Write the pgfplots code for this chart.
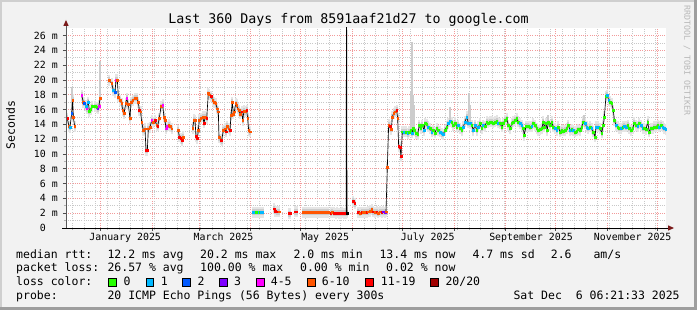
\documentclass[border=0pt]{standalone}
\usepackage{pgfplots}
\pgfplotsset{compat=1.18}
\usepackage{pgfplotstable}
\usepackage{fontspec}
\setmainfont{DejaVu Sans Mono}
\definecolor{lc0}{HTML}{26FF00}
\definecolor{lc1}{HTML}{00B8FF}
\definecolor{lc2}{HTML}{0059FF}
\definecolor{lc3}{HTML}{7E00FF}
\definecolor{lc4}{HTML}{FF00FF}
\definecolor{lc5}{HTML}{FF5500}
\definecolor{lc6}{HTML}{FF0000}
\definecolor{lc7}{HTML}{A10000}
\definecolor{bgc}{HTML}{F2F2F2}
\definecolor{shadea}{HTML}{CFCFCF}
\definecolor{shadeb}{HTML}{9E9E9E}
\definecolor{mgrid}{HTML}{F29A9A}
\definecolor{ngrid}{HTML}{C8C8C8}
\definecolor{arrowc}{HTML}{7A1A1A}
\definecolor{wm}{HTML}{B8B8B8}

% median rtt (ms) per day since Dec 11 2024, loss class
\pgfplotstableread{
d v c
0.8 14.8 r
1.8 13.7 o
2.4 13.6 c
3.4 15.5 b
4.0 17.3 o
4.4 15.0 o
5.2 13.7 o
nan nan n
9.4 17.9 m
10.4 17.0 o
11.0 16.9 b
12.0 16.5 c
12.4 16.1 m
13.4 17.0 c
14.0 15.8 g
14.8 16.0 g
15.8 16.4 g
17.4 16.4 g
18.4 16.3 g
19.0 16.1 p
19.8 16.5 m
20.4 17.5 o
nan nan n
26.0 19.95 o
27.4 19.5 o
28.4 18.6 c
29.4 18.3 b
30.0 20.0 m
30.8 20.0 o
31.4 17.7 o
32.4 17.25 o
33.4 16.8 o
34.0 15.9 o
34.8 15.45 o
35.8 16.8 o
36.4 17.5 m
37.4 16.7 o
38.4 14.8 o
39.0 17.0 o
40.0 17.25 o
41.4 17.5 o
42.4 17.5 o
43.4 17.0 o
44.0 15.9 r
44.8 15.7 o
45.4 14.3 o
46.4 13.2 o
47.4 13.4 o
48.0 10.5 r
48.8 10.5 r
49.4 13.4 o
50.4 13.6 o
51.4 14.5 m
52.4 14.3 o
53.4 14.5 r
54.4 13.9 o
55.0 13.8 r
56.0 14.8 o
57.0 16.4 o
58.0 16.6 m
58.8 15.0 o
59.4 14.6 o
60.0 13.4 m
60.8 13.7 m
61.6 13.9 o
62.4 13.7 o
63.4 13.4 o
nan nan n
67.4 13.2 o
68.0 12.3 r
68.8 12.1 r
69.8 11.8 r
70.4 12.3 o
nan nan n
76.0 13.5 o
76.8 14.6 o
77.4 14.5 o
78.0 12.4 r
78.8 12.1 r
79.4 13.2 o
80.0 14.6 o
80.8 14.8 o
82.0 15.0 o
82.8 14.2 r
83.6 15.0 o
84.4 14.8 r
85.4 18.15 o
86.0 18.0 o
87.0 17.8 r
88.0 17.25 o
89.0 17.0 o
89.8 16.8 o
90.8 16.1 o
91.4 15.7 o
91.8 12.2 o
92.8 11.9 r
93.4 11.8 r
94.4 13.2 o
95.4 13.4 o
96.0 13.0 r
96.8 13.75 o
97.6 13.4 o
98.4 13.2 r
99.0 15.2 o
99.8 17.0 o
100.4 15.4 o
101.0 15.7 o
101.8 16.8 o
102.4 16.6 o
103.0 16.1 o
103.8 15.9 o
104.4 15.4 o
105.4 15.7 r
106.0 14.55 o
106.8 15.8 o
107.6 15.7 o
108.4 15.9 r
109.0 14.8 o
109.6 13.2 o
110.4 13.0 o
nan nan n
112.4 2.1 c
113.2 2.1 c
114.0 2.1 g
114.8 2.1 g
115.6 2.1 c
116.4 2.1 g
117.2 2.1 c
118.0 2.1 c
nan nan n
124.8 2.6 r
125.6 2.3 r
126.4 2.2 r
127.2 2.2 r
128.0 2.2 o
nan nan n
133.6 1.95 r
134.4 1.95 r
nan nan n
137.6 2.2 r
138.4 2.2 r
nan nan n
142.4 2.15 o
143.4 2.15 o
144.4 2.15 o
145.4 2.15 o
146.4 2.15 o
147.4 2.15 o
148.4 2.15 o
149.4 2.15 o
150.4 2.15 o
151.4 2.15 o
152.4 2.15 o
153.4 2.15 o
154.4 2.15 o
155.4 2.15 o
156.4 2.15 o
157.4 2.15 o
nan nan n
158.8 2.05 r
159.8 2.1 o
160.8 2.05 r
161.8 2.0 r
162.8 2.05 r
163.8 2.0 r
164.8 2.0 r
165.8 2.05 r
166.8 2.0 r
167.8 2.0 r
168.1 2.0 r
168.3 40 n
168.6 2.05 n
nan nan n
172.4 3.6 r
173.2 3.3 r
nan nan n
175.4 2.1 r
176.4 2.05 o
177.4 2.1 r
178.4 2.1 o
179.4 2.15 o
180.4 2.1 r
181.4 2.2 o
182.4 2.3 o
183.4 2.5 o
184.4 2.2 r
185.4 2.1 o
186.4 2.2 r
187.4 2.05 o
188.4 2.2 o
189.4 2.1 r
190.4 2.2 p
191.4 2.15 p
192.0 2.2 o
192.8 8.2 o
193.6 13.9 o
194.4 13.7 r
195.2 13.3 o
195.8 15.0 o
196.6 15.5 o
197.6 15.7 o
198.4 15.9 r
199.0 14.8 o
199.6 11.0 r
200.4 10.9 r
201.0 9.7 r
201.8 13.0 g
202.8 12.98 c
204.0 12.98 g
205.0 12.75 c
206.0 12.98 g
206.8 13.2 g
207.6 12.85 c
208.4 13.43 g
209.0 13.2 g
210.0 12.75 g
211.0 12.67 g
212.0 13.88 g
212.8 13.43 g
213.8 13.88 g
214.8 13.2 c
215.4 14.1 g
216.4 14.02 g
217.4 13.66 c
218.4 13.43 g
219.4 12.98 c
220.4 13.2 g
221.4 12.85 g
222.4 13.43 g
223.4 13.2 g
224.4 12.98 c
225.4 12.75 c
226.4 12.67 c
227.4 13.2 g
228.4 13.66 g
229.4 14.1 c
230.4 14.42 c
231.4 14.24 g
232.4 13.88 g
233.4 14.2 g
234.4 13.66 g
235.4 13.88 c
236.4 13.43 g
237.4 13.2 g
238.4 13.66 c
239.4 14.33 c
240.4 15.0 c
241.4 14.2 c
242.4 14.1 c
243.4 13.88 g
244.4 13.2 c
245.4 13.88 c
246.4 13.2 g
247.4 13.66 c
248.4 14.1 g
249.4 13.43 g
250.4 13.88 c
251.4 13.75 g
252.4 14.33 g
253.4 14.2 g
254.4 14.33 g
255.4 14.33 g
256.4 14.2 g
257.4 14.33 g
258.4 14.46 g
259.4 14.2 c
260.4 14.1 g
261.4 13.66 g
262.4 14.1 g
263.4 14.55 g
264.4 14.78 g
265.4 13.88 g
266.4 13.43 g
267.4 14.1 g
268.4 14.33 g
269.4 14.55 g
270.4 14.78 g
271.4 14.33 g
272.4 14.1 c
273.4 13.88 c
274.4 13.43 g
275.0 12.54 g
276.0 13.75 g
277.4 13.75 g
278.4 13.66 g
279.4 13.75 c
280.4 14.1 g
281.4 13.88 g
282.4 13.43 g
283.4 13.2 g
284.4 13.3 g
285.4 13.43 g
286.4 14.33 g
287.0 13.66 g
288.0 14.1 g
288.8 13.2 g
289.4 14.33 g
290.4 13.88 g
291.4 14.33 g
292.4 13.66 g
293.4 13.43 c
294.4 13.2 c
295.4 13.66 g
296.4 12.98 g
297.4 13.2 g
298.4 13.12 g
299.4 13.2 g
300.4 13.43 g
301.4 13.88 g
302.4 13.2 c
303.4 13.3 g
304.4 13.2 c
305.4 12.98 g
306.4 13.12 g
307.4 13.3 g
308.4 13.2 g
309.4 13.66 g
310.4 14.33 g
311.4 14.1 c
312.4 13.66 c
313.4 13.43 c
314.4 13.66 g
315.4 13.43 c
316.4 12.98 g
317.4 12.31 g
318.0 13.66 c
319.4 13.66 c
320.4 13.43 g
321.4 12.85 g
322.4 13.88 g
323.0 15.0 g
324.0 17.79 g
324.8 17.93 c
325.6 17.25 c
326.4 17.03 g
327.4 16.8 g
328.4 15.9 g
329.0 14.55 g
330.0 13.88 c
331.0 13.66 g
332.0 13.43 g
333.0 13.43 c
334.0 13.66 g
335.0 13.75 c
336.0 13.66 c
337.0 13.88 g
338.0 13.43 g
339.0 13.2 g
340.0 13.43 g
341.0 14.2 g
342.0 13.88 g
343.0 13.75 c
344.0 14.1 g
345.0 13.88 c
346.0 13.43 c
347.0 13.43 g
348.0 13.3 g
349.0 14.33 g
350.0 12.98 g
351.0 13.43 g
352.0 13.43 g
353.0 13.66 g
354.0 13.66 g
355.0 13.88 g
356.0 13.66 c
357.0 13.88 g
358.0 13.66 c
359.0 13.43 c
359.8 13.3 c
}\med

% tall smoke (max rtt) spikes: from median to max
\pgfplotstableread{
d v
20.3 17.5
20.3 22.6
nan nan
3.6 16.0
3.6 19.0
nan nan
207.0 13.0
207.0 18.3
nan nan
207.6 13.0
207.6 25.1
nan nan
208.3 13.4
208.3 18.0
nan nan
209.0 13.2
209.0 16.6
nan nan
230.4 14.4
230.4 16.4
nan nan
241.6 14.2
241.6 18.2
nan nan
242.4 14.1
242.4 16.6
nan nan
289.4 14.3
289.4 15.3
nan nan
310.8 14.3
310.8 15.2
}\spikes

\begin{document}
\begin{tikzpicture}
\useasboundingbox (0pt,0pt) rectangle (697pt,310pt);
\fill[bgc] (0pt,0pt) rectangle (697pt,310pt);
\fill[shadea] (0pt,308pt) rectangle (697pt,310pt);
\fill[shadea] (0pt,0pt) rectangle (2pt,310pt);
\fill[shadeb] (0pt,0pt) rectangle (697pt,3pt);
\fill[shadeb] (694pt,0pt) rectangle (697pt,310pt);

\begin{axis}[
  at={(66pt,82pt)}, anchor=south west,
  width=600pt, height=200pt, scale only axis,
  xmin=0, xmax=360, ymin=0, ymax=27,
  unbounded coords=jump,
  axis background/.style={fill=white},
  axis x line=bottom, axis y line=left,
  axis line style={draw=none,-},
  tick align=outside,
  major tick length=3pt, minor tick length=2pt,
  xtick={20.735,51.735,79.735,110.735,140.735,171.735,201.735,232.735,263.735,293.735,324.735,354.735},
  xticklabels={},
  minor xtick={3.735,10.735,...,359},
  extra x ticks={35.5,94.5,155.5,217,279,340},
  extra x tick labels={January 2025,March 2025,May 2025,July 2025,September 2025,November 2025},
  extra x tick style={grid=none, major tick length=0pt},
  ytick={0,2,...,26},
  yticklabels={0\hphantom{xx},2 m,4 m,6 m,8 m,10 m,12 m,14 m,16 m,18 m,20 m,22 m,24 m,26 m},
  minor y tick num=1,
  grid=both,
  major grid style={draw=mgrid, line width=0.6pt, dash pattern=on 1pt off 1.2pt},
  minor grid style={draw=ngrid, line width=0.6pt, dash pattern=on 1pt off 1.2pt},
  major tick style={draw=black!70, line width=0.6pt},
  minor tick style={draw=gray!60, line width=0.6pt},
  tick label style={font=\fontsize{9.9}{12}\selectfont, inner sep=0pt},
  xticklabel style={anchor=base, yshift=-13pt},
  yticklabel style={anchor=base east, xshift=-5pt, yshift=-3.6pt},
]
\addplot[draw=none, mark=none, restrict y to domain=0:27,
  error bars/.cd, y dir=both, y fixed=0.75, error mark=none,
  error bar style={draw=gray!20, line width=2.2pt, solid}]
  table[x=d,y=v]{\med};
\addplot[draw=none, mark=none, restrict y to domain=0:27,
  error bars/.cd, y dir=both, y fixed=0.4, error mark=none,
  error bar style={draw=gray!40, line width=2.2pt, solid}]
  table[x=d,y=v]{\med};
\addplot[draw=gray!40, line width=1.8pt, mark=none] table[x=d,y=v]{\spikes};
\addplot[black, line width=0.65pt, mark=none] table[x=d,y=v]{\med};
\addplot[scatter, only marks, mark=square*, mark size=0.95pt,
  restrict y to domain=0:27,
  scatter src=explicit symbolic,
  scatter/classes={
    g={mark=square*,draw=lc0,fill=lc0},
    c={mark=square*,draw=lc1,fill=lc1},
    b={mark=square*,draw=lc2,fill=lc2},
    p={mark=square*,draw=lc3,fill=lc3},
    m={mark=square*,draw=lc4,fill=lc4},
    o={mark=square*,draw=lc5,fill=lc5},
    r={mark=square*,draw=lc6,fill=lc6},
    d={mark=square*,draw=lc7,fill=lc7},
    n={mark=square*,draw=none,fill=none}}]
  table[x=d,y=v,meta=c]{\med};
\end{axis}

% axis lines with arrows
\draw[black, line width=0.8pt] (62pt,82pt) -- (669pt,82pt);
\fill[arrowc] (668pt,79.3pt) -- (674pt,82pt) -- (668pt,84.7pt) -- cycle;
\draw[black!65, line width=0.8pt] (66pt,82pt) -- (66pt,285pt);
\fill[arrowc] (63.3pt,284pt) -- (66pt,290pt) -- (68.7pt,284pt) -- cycle;

% title and side texts
\node[anchor=base, inner sep=0pt, font=\fontsize{13.3}{16}\selectfont] at (348.5pt,286pt) {Last 360 Days from 8591aaf21d27 to google.com};
\node[anchor=base, rotate=90, inner sep=0pt, font=\fontsize{11.5}{14}\selectfont] at (15pt,185pt) {Seconds};
\node[anchor=west, rotate=-90, inner sep=0pt, text=wm, font=\fontsize{8.3}{10}\selectfont] at (687pt,305pt) {RRDTOOL / TOBI OETIKER};

% legend
\begin{scope}[every node/.style={anchor=base west, inner sep=0pt, font=\fontsize{11.5}{14}\selectfont}]
\node at (16pt,51.7pt) {median rtt:};
\node at (107.3pt,51.7pt) {12.2 ms avg};
\node at (200pt,51.7pt) {20.2 ms max};
\node at (293.3pt,51.7pt) {2.0 ms min};
\node at (379.3pt,51.7pt) {13.4 ms now};
\node at (472.3pt,51.7pt) {4.7 ms sd};
\node at (550.7pt,51.7pt) {2.6};
\node at (593.3pt,51.7pt) {am/s};
\node at (16pt,38.3pt) {packet loss:};
\node at (107.3pt,38.3pt) {26.57 \% avg};
\node at (200pt,38.3pt) {100.00 \% max};
\node at (300pt,38.3pt) {0.00 \% min};
\node at (386pt,38.3pt) {0.02 \% now};
\node at (16pt,24pt) {loss color:};
\node at (123.3pt,24pt) {0};
\node at (160.7pt,24pt) {1};
\node at (197.3pt,24pt) {2};
\node at (234pt,24pt) {3};
\node at (270.7pt,24pt) {4-5};
\node at (321.7pt,24pt) {6-10};
\node at (380.7pt,24pt) {11-19};
\node at (445.3pt,24pt) {20/20};
\node at (16pt,10pt) {probe:};
\node at (107.3pt,10pt) {20 ICMP Echo Pings (56 Bytes) every 300s};
\node at (513.3pt,10pt) {Sat Dec\ \ 6 06:21:33 2025};
\end{scope}
\foreach \xx/\cc in {108.7/lc0,146/lc1,182.7/lc2,219.3/lc3,256.7/lc4,307.3/lc5,365.7/lc6,430.7/lc7}
  \filldraw[fill=\cc, draw=black, line width=0.6pt] (\xx pt,23.5pt) rectangle ++(7.6pt,7.8pt);
\end{tikzpicture}
\end{document}
